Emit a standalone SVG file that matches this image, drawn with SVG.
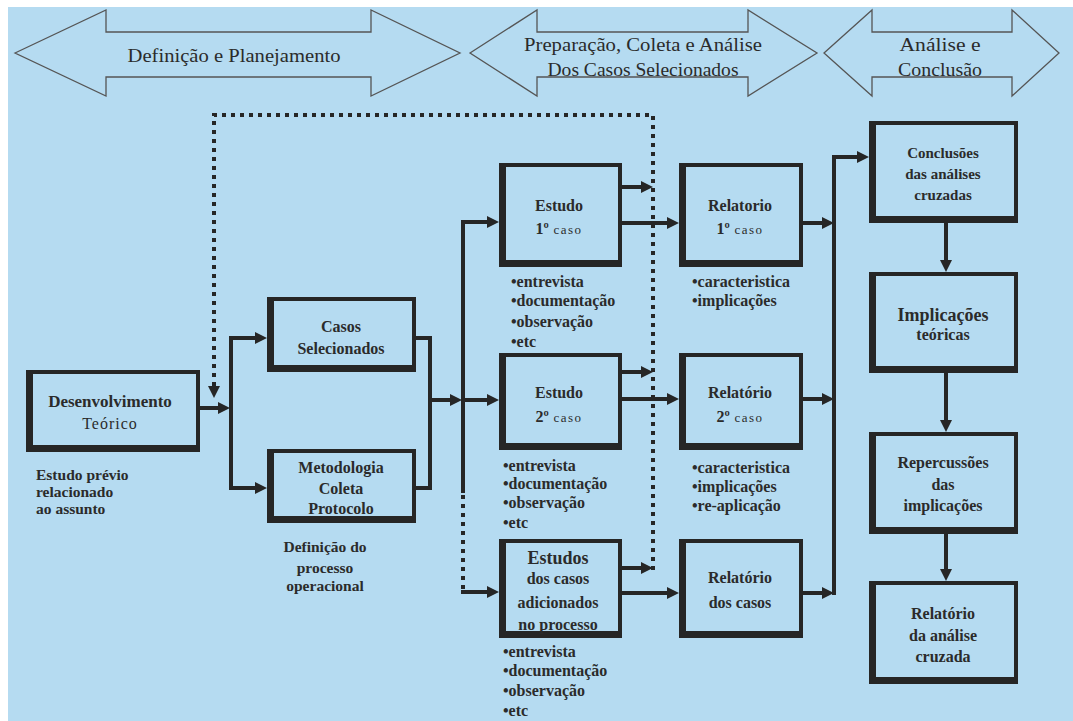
<svg xmlns="http://www.w3.org/2000/svg" width="1073" height="721" viewBox="0 0 1073 721">
<defs>
<style>
.bg{fill:#b5dbf1}
.ba{fill:none;stroke:#555;stroke-width:1.3;stroke-linejoin:miter}
.fr{fill:none;stroke:#262626;stroke-width:4}
.sh{fill:#262626}
.c{fill:none;stroke:#262626;stroke-width:4}
.d{fill:none;stroke:#262626;stroke-width:4;stroke-dasharray:4 5}
.t{font-size:16px;font-weight:bold;text-anchor:middle}
.tb{font-size:18px;font-weight:bold;text-anchor:middle}
.s{font-size:13px;font-weight:normal;letter-spacing:1.5px}
.b{font-size:16px;font-weight:bold}
.cap{font-size:15.5px;font-weight:bold}
.h{font-size:19px;text-anchor:middle}
</style>
<marker id="ah" viewBox="0 0 12 12" refX="4" refY="6" markerWidth="12" markerHeight="12" markerUnits="userSpaceOnUse" orient="auto"><path d="M0,0 L12,6 L0,12 z" fill="#262626"/></marker>
</defs>
<rect class="bg" x="8" y="7" width="1065" height="714"/>

<g font-family="'Liberation Serif', 'DejaVu Serif', 'Times New Roman', serif" fill="#2b2b2b">
<g id="phase1">
<path class="ba" d="M15,53 L106,10 L106,32 L371,32 L371,10 L460,53 L371,96 L371,77 L106,77 L106,96 Z"/>
<text class="h" x="234" y="62" textLength="213" lengthAdjust="spacingAndGlyphs">Definição e Planejamento</text>
</g>
<g id="phase2">
<path class="ba" d="M470,53 L537,10 L537,32 L748,32 L748,10 L817,53 L748,96 L748,77 L537,77 L537,96 Z"/>
<text class="h" x="643" y="51" textLength="238" lengthAdjust="spacingAndGlyphs">Preparação, Coleta e Análise</text>
<text class="h" x="643" y="76" textLength="191" lengthAdjust="spacingAndGlyphs">Dos Casos Selecionados</text>
</g>
<g id="phase3">
<path class="ba" d="M824,53 L872,10 L872,32 L1012,32 L1012,10 L1059,53 L1012,96 L1012,77 L872,77 L872,96 Z"/>
<text class="h" x="940" y="51" textLength="81" lengthAdjust="spacingAndGlyphs">Análise e</text>
<text class="h" x="940" y="76" textLength="84" lengthAdjust="spacingAndGlyphs">Conclusão</text>
</g>

<g id="connectors">
<path class="c" d="M200,408 H222" marker-end="url(#ah)"/>
<path class="c" d="M231,336 V490"/>
<path class="c" d="M229,338 H259" marker-end="url(#ah)"/>
<path class="c" d="M229,488 H259" marker-end="url(#ah)"/>
<path class="c" d="M416,338 H430 V488 H416"/>
<path class="c" d="M430,400 H454" marker-end="url(#ah)"/>
<path class="c" d="M463,400 H491" marker-end="url(#ah)"/>
<path class="c" d="M463,493 V222 H491" marker-end="url(#ah)"/>
<path class="d" d="M463,495 V590"/>
<path class="c" d="M461,592 H491" marker-end="url(#ah)"/>
<path class="c" d="M622,223 H671" marker-end="url(#ah)"/>
<path class="c" d="M622,187 H645" marker-end="url(#ah)"/>
<path class="c" d="M622,399 H671" marker-end="url(#ah)"/>
<path class="c" d="M622,372 H645" marker-end="url(#ah)"/>
<path class="c" d="M622,593 H671" marker-end="url(#ah)"/>
<path class="c" d="M622,568 H645" marker-end="url(#ah)"/>
<path class="c" d="M803,223 H826" marker-end="url(#ah)"/>
<path class="c" d="M803,399 H826" marker-end="url(#ah)"/>
<path class="c" d="M803,593 H826" marker-end="url(#ah)"/>
<path class="c" d="M834,595 V157 H861" marker-end="url(#ah)"/>
<path class="c" d="M946,223 V264" marker-end="url(#ah)"/>
<path class="c" d="M946,373 V424" marker-end="url(#ah)"/>
<path class="c" d="M946,534 V573" marker-end="url(#ah)"/>
<path class="d" d="M653,570 V115 H214 V390" marker-end="url(#ah)"/>
</g>

<g id="desenvolvimento">
<rect class="fr" x="28" y="372" width="170" height="78"/>
<path class="sh" d="M26,372 h7 V445 H198 V452 H26 Z"/>
<text class="t" x="110" y="407" style="font-size:17px">Desenvolvimento</text>
<text class="t" x="110" y="429" style="font-weight:normal;letter-spacing:1px">Teórico</text>
<text class="cap" x="36" y="480">Estudo prévio</text>
<text class="cap" x="36" y="497">relacionado</text>
<text class="cap" x="36" y="514">ao assunto</text>
</g>

<g id="casos">
<rect class="fr" x="269" y="299" width="145" height="71"/>
<path class="sh" d="M267,299 h7 V365 H414 V372 H267 Z"/>
<text class="t" x="341" y="332">Casos</text>
<text class="t" x="341" y="354">Selecionados</text>
</g>

<g id="metodologia">
<rect class="fr" x="269" y="451" width="145" height="70"/>
<path class="sh" d="M267,451 h7 V516 H414 V523 H267 Z"/>
<text class="t" x="341" y="473">Metodologia</text>
<text class="t" x="341" y="494">Coleta</text>
<text class="t" x="341" y="514">Protocolo</text>
<text class="cap" x="325" y="552" text-anchor="middle">Definição do</text>
<text class="cap" x="325" y="573" text-anchor="middle">processo</text>
<text class="cap" x="325" y="591" text-anchor="middle">operacional</text>
</g>

<g id="estudo1">
<rect class="fr" x="501" y="165" width="119" height="100"/>
<path class="sh" d="M499,165 h7 V260 H620 V267 H499 Z"/>
<text class="t" x="559" y="211">Estudo</text>
<text class="t" x="559" y="234">1º<tspan class="s"> caso</tspan></text>
<text class="b" x="511" y="287">•entrevista</text>
<text class="b" x="511" y="306">•documentação</text>
<text class="b" x="511" y="327">•observação</text>
<text class="b" x="511" y="347">•etc</text>
</g>

<g id="relatorio1">
<rect class="fr" x="681" y="165" width="120" height="100"/>
<path class="sh" d="M679,165 h7 V260 H801 V267 H679 Z"/>
<text class="t" x="740" y="211">Relatorio</text>
<text class="t" x="740" y="234">1º<tspan class="s"> caso</tspan></text>
<text class="b" x="692" y="287">•caracteristica</text>
<text class="b" x="692" y="306">•implicações</text>
</g>

<g id="estudo2">
<rect class="fr" x="501" y="355" width="119" height="93"/>
<path class="sh" d="M499,355 h7 V443 H620 V450 H499 Z"/>
<text class="t" x="559" y="398">Estudo</text>
<text class="t" x="559" y="422">2º<tspan class="s"> caso</tspan></text>
<text class="b" x="503" y="471">•entrevista</text>
<text class="b" x="503" y="489">•documentação</text>
<text class="b" x="503" y="508">•observação</text>
<text class="b" x="503" y="528">•etc</text>
</g>

<g id="relatorio2">
<rect class="fr" x="681" y="355" width="120" height="93"/>
<path class="sh" d="M679,355 h7 V443 H801 V450 H679 Z"/>
<text class="t" x="740" y="398">Relatório</text>
<text class="t" x="740" y="422">2º<tspan class="s"> caso</tspan></text>
<text class="b" x="692" y="473">•caracteristica</text>
<text class="b" x="692" y="492">•implicações</text>
<text class="b" x="692" y="511">•re-aplicação</text>
</g>

<g id="estudos-adicionais">
<rect class="fr" x="501" y="541" width="119" height="95"/>
<path class="sh" d="M499,541 h7 V631 H620 V638 H499 Z"/>
<text class="tb" x="558" y="564">Estudos</text>
<text class="t" x="558" y="584">dos casos</text>
<text class="t" x="558" y="608">adicionados</text>
<text class="t" x="558" y="630">no processo</text>
<text class="b" x="503" y="657">•entrevista</text>
<text class="b" x="503" y="676">•documentação</text>
<text class="b" x="503" y="696">•observação</text>
<text class="b" x="503" y="716">•etc</text>
</g>

<g id="relatorio-casos">
<rect class="fr" x="681" y="541" width="120" height="95"/>
<path class="sh" d="M679,541 h7 V631 H801 V638 H679 Z"/>
<text class="t" x="740" y="583">Relatório</text>
<text class="t" x="740" y="608">dos casos</text>
</g>

<g id="conclusoes">
<rect class="fr" x="871" y="123" width="145" height="98"/>
<path class="sh" d="M869,123 h7 V216 H1016 V223 H869 Z"/>
<text class="t" x="943" y="158" style="font-size:15px">Conclusões</text>
<text class="t" x="943" y="179" style="font-size:15px">das análises</text>
<text class="t" x="943" y="200" style="font-size:15px">cruzadas</text>
</g>

<g id="implicacoes">
<rect class="fr" x="871" y="274" width="145" height="97"/>
<path class="sh" d="M869,274 h7 V366 H1016 V373 H869 Z"/>
<text class="tb" x="943" y="321">Implicações</text>
<text class="t" x="943" y="340">teóricas</text>
</g>

<g id="repercussoes">
<rect class="fr" x="871" y="434" width="145" height="98"/>
<path class="sh" d="M869,434 h7 V527 H1016 V534 H869 Z"/>
<text class="t" x="943" y="468">Repercussões</text>
<text class="t" x="943" y="490">das</text>
<text class="t" x="943" y="511">implicações</text>
</g>

<g id="relatorio-analise">
<rect class="fr" x="871" y="583" width="145" height="99"/>
<path class="sh" d="M869,583 h7 V677 H1016 V684 H869 Z"/>
<text class="t" x="943" y="619">Relatório</text>
<text class="t" x="943" y="641">da análise</text>
<text class="t" x="943" y="662">cruzada</text>
</g>
</g>
</svg>
